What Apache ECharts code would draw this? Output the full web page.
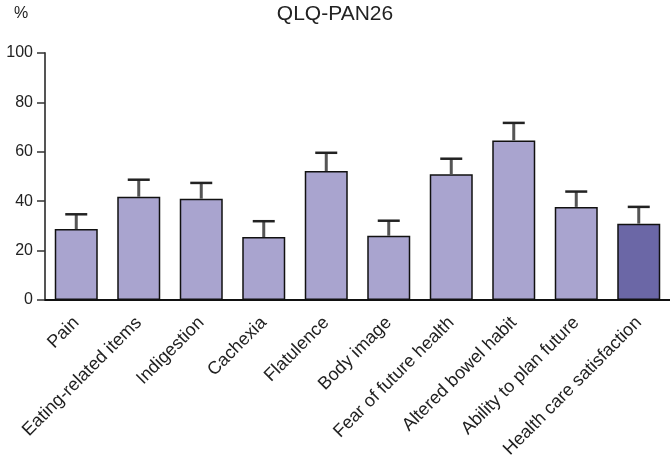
<!DOCTYPE html>
<html><head><meta charset="utf-8">
<script src="https://cdn.jsdelivr.net/npm/echarts@6/dist/echarts.min.js"></script>
<style>html,body{margin:0;padding:0;background:#fff}#c{width:670px;height:470px}</style>
</head><body><div id="c"></div>
<script>
const categories = ['Pain','Eating-related items','Indigestion','Cachexia','Flatulence','Body image','Fear of future health','Altered bowel habit','Ability to plan future','Health care satisfaction'];
const means = [28.7, 41.8, 41.0, 25.5, 52.2, 26.0, 50.9, 64.6, 37.7, 30.9];
const upper = [34.7, 48.7, 47.4, 31.9, 59.6, 32.1, 57.2, 71.7, 43.9, 37.7];
const yTicks = [0, 20, 40, 60, 80, 100];
const lightColor = '#a9a4cf';
const darkColor = '#6b67a6';
const font = 'Liberation Sans, Arial, sans-serif';

const chart = echarts.init(document.getElementById('c'), null, {renderer: 'canvas'});
chart.setOption({
  animation: false,
  title: [
    {text: 'QLQ-PAN26', left: 330, top: -1, textAlign: 'center', textStyle: {fontFamily: font, fontSize: 21, fontWeight: 'normal', color: '#222'}},
    {text: '%', left: 9, top: 1, textStyle: {fontFamily: font, fontSize: 16, fontWeight: 'normal', color: '#222'}}
  ],
  grid: {left: 45, right: 0, top: 53, bottom: 170},
  xAxis: {
    type: 'category', data: categories,
    axisLine: {lineStyle: {color: '#111', width: 2}},
    axisTick: {alignWithLabel: true, length: 6, lineStyle: {color: '#444', width: 1.5}},
    axisLabel: {rotate: 45, interval: 0, margin: 20, fontFamily: font, fontSize: 18, color: '#222'}
  },
  yAxis: {
    type: 'value', min: yTicks[0], max: yTicks[yTicks.length - 1], interval: 20,
    splitLine: {show: false},
    axisLine: {show: true, lineStyle: {color: '#555', width: 2}},
    axisTick: {show: true, length: 8, lineStyle: {color: '#333', width: 1.5}},
    axisLabel: {margin: 12, fontFamily: font, fontSize: 16, color: '#222'}
  },
  series: [
    {
      type: 'bar', barWidth: 43,
      data: means.map((v, i) => ({value: v, itemStyle: {color: i === means.length - 1 ? darkColor : lightColor}})),
      itemStyle: {borderColor: '#111', borderWidth: 1.5},
      z: 2
    },
    {
      type: 'custom',
      data: means.map((v, i) => [i, v, upper[i]]),
      renderItem: function (params, api) {
        const base = api.coord([api.value(0), api.value(1)]);
        const top = api.coord([api.value(0), api.value(2)]);
        const half = 11;
        return {type: 'group', children: [
          {type: 'line', shape: {x1: base[0], y1: base[1], x2: top[0], y2: top[1]}, style: {stroke: '#555', lineWidth: 3}},
          {type: 'line', shape: {x1: top[0] - half, y1: top[1], x2: top[0] + half, y2: top[1]}, style: {stroke: '#222', lineWidth: 2.5}}
        ]};
      },
      z: 3
    }
  ]
});
</script></body></html>
